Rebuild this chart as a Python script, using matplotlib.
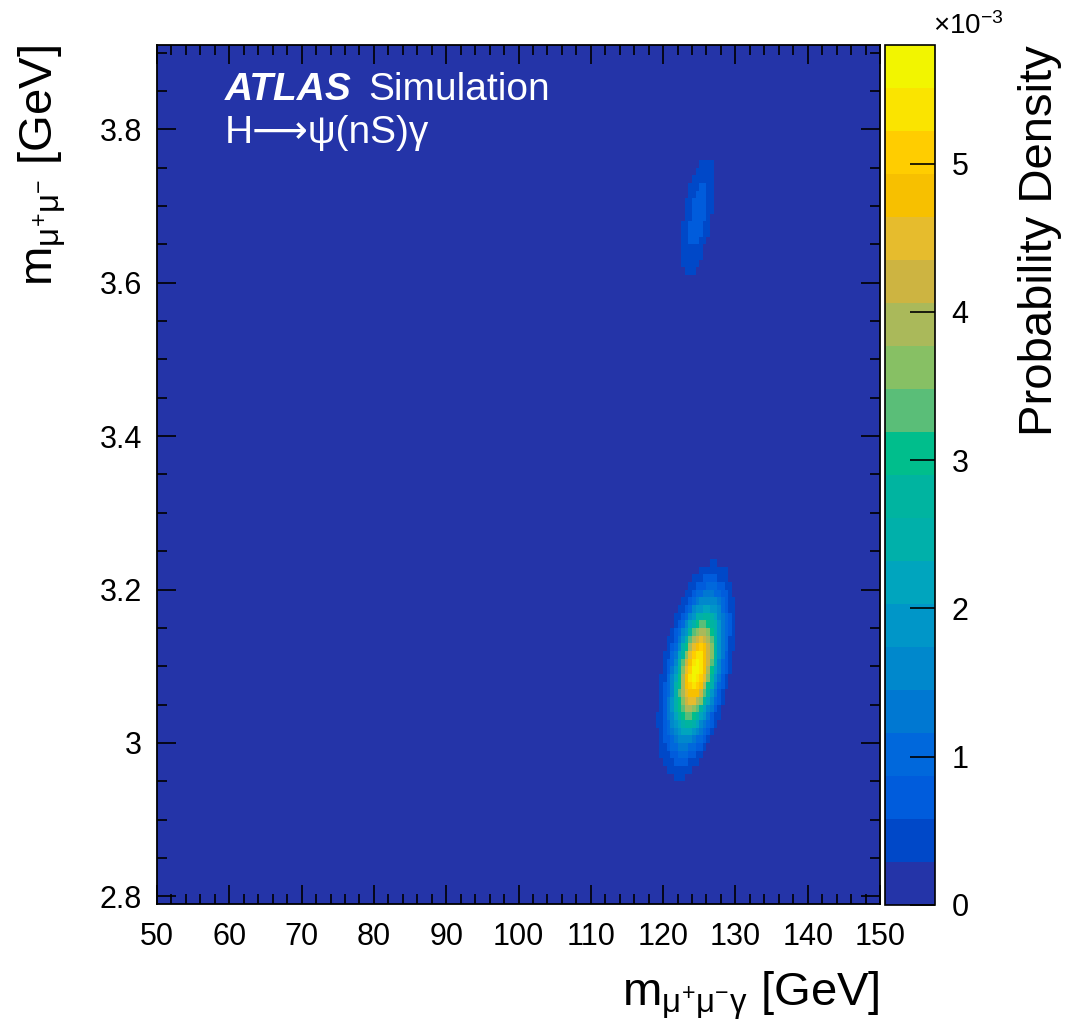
import numpy as np
import matplotlib
matplotlib.use("Agg")
import matplotlib.pyplot as plt
from matplotlib.colors import ListedColormap, BoundaryNorm
from matplotlib.ticker import MultipleLocator

plt.rcParams['font.family'] = ['Liberation Sans', 'DejaVu Sans']
plt.rcParams['mathtext.fontset'] = 'custom'
plt.rcParams['mathtext.rm'] = 'Liberation Sans'
plt.rcParams['mathtext.it'] = 'Liberation Sans:italic'
plt.rcParams['mathtext.bf'] = 'Liberation Sans:bold'

# binning of the 2D histogram [GeV]
x_lo, x_hi, x_bin = 50.0, 150.0, 0.5
y_lo, y_hi, y_bin = 2.79, 3.91, 0.01

# the two signal peaks (J/psi and psi(2S))
peak_name = ["J/psi", "psi(2S)"]
peak_mx = [124.6, 124.8]      # centre in m(mumugamma)
peak_my = [3.095, 3.688]      # centre in m(mumu)
peak_sx = [1.95, 1.4]         # width in m(mumugamma) at fixed m(mumu)
peak_sy = [0.058, 0.056]      # width in m(mumu)
peak_slope = [17.6, 16.0]     # tilt: GeV of m(mumugamma) per GeV of m(mumu)
peak_height = [5.65, 0.75]    # probability density, x10^-3

# 20 colour levels between 0 and 5.8 (x10^-3)
z_max = 5.8
palette = ["#2434A8", "#0048C8", "#005CDC", "#0068DC", "#0078D2",
           "#0088CC", "#0096C8", "#00A5BE", "#00B0AA", "#00B4A0",
           "#00BE8C", "#5ABE78", "#87C064", "#AAB95A", "#CDB441",
           "#E6BC2D", "#F7C000", "#FFCD00", "#FAE400", "#F2F500"]
cbar_ticks = [0, 1, 2, 3, 4, 5]
x_ticks = [50, 60, 70, 80, 90, 100, 110, 120, 130, 140, 150]
y_ticks = [2.8, 3.0, 3.2, 3.4, 3.6, 3.8]
y_ticklabels = ["2.8", "3", "3.2", "3.4", "3.6", "3.8"]

# fill the bins
xe = np.arange(x_lo, x_hi + x_bin / 2, x_bin)
ye = np.round(np.arange(y_lo, y_hi + y_bin / 2, y_bin), 4)
xc = 0.5 * (xe[1:] + xe[:-1])
yc = 0.5 * (ye[1:] + ye[:-1])
X, Y = np.meshgrid(xc, yc)
dens = np.zeros_like(X)
for mx, my, sx, sy, k, h in zip(peak_mx, peak_my, peak_sx, peak_sy, peak_slope, peak_height):
    dy = (Y - my) / sy
    dx = (X - mx - k * (Y - my)) / sx
    dens += h * np.exp(-0.5 * (dx ** 2 + dy ** 2))

W, H = 1066, 1025
fig = plt.figure(figsize=(W / 100, H / 100), dpi=100)
ax = fig.add_axes([157 / W, 1 - 904 / H, 723 / W, 859 / H])
cax = fig.add_axes([885 / W, 1 - 905 / H, 50 / W, 860 / H])

cmap = ListedColormap(palette)
cmap.set_over(palette[-1])
bounds = np.linspace(0, z_max, len(palette) + 1)
norm = BoundaryNorm(bounds, cmap.N)

mesh = ax.pcolormesh(xe, ye, dens, cmap=cmap, norm=norm, shading='flat')
ax.set_xlim(x_lo, x_hi)
ax.set_ylim(y_lo, y_hi)

ax.set_xticks(x_ticks)
ax.set_xticklabels([str(t) for t in x_ticks])
ax.set_yticks(y_ticks)
ax.set_yticklabels(y_ticklabels)
ax.xaxis.set_minor_locator(MultipleLocator(2))
ax.yaxis.set_minor_locator(MultipleLocator(0.05))
ax.tick_params(which='both', direction='in', top=True, right=True,
               labelsize=22, width=1.2, colors='black')
ax.tick_params(which='major', length=14)
ax.tick_params(which='minor', length=7)
ax.tick_params(axis='x', pad=13)
ax.tick_params(axis='y', pad=11)
for s in ax.spines.values():
    s.set_linewidth(1.3)

cb = fig.colorbar(mesh, cax=cax, ticks=cbar_ticks)
cb.ax.set_yticklabels([str(t) for t in cbar_ticks])
cb.ax.tick_params(direction='in', length=18, width=1.2, labelsize=22, pad=12)
cb.ax.minorticks_off()
cb.outline.set_linewidth(1.2)

# labels, ROOT style: aligned to the axis ends
fig.text(880 / W, 1 - 1005 / H, r'$\mathrm{m}_{\mathrm{\mu^{+}\mu^{-}\gamma}}$ [GeV]',
         ha='right', va='baseline', fontsize=34)
fig.text(42 / W, 1 - 45 / H, r'$\mathrm{m}_{\mathrm{\mu^{+}\mu^{-}}}$ [GeV]',
         ha='center', va='top', rotation=90, fontsize=34)
fig.text(1040 / W, 1 - 45 / H, 'Probability Density',
         ha='center', va='top', rotation=90, fontsize=34)
fig.text(933 / W, 1 - 40 / H, r'$\times10^{-3}$', ha='left', va='bottom', fontsize=20)

fig.text(225 / W, 1 - 100 / H, 'ATLAS', color='white', fontsize=28,
         fontweight='bold', fontstyle='italic', va='baseline')
fig.text(368 / W, 1 - 100 / H, 'Simulation', color='white', fontsize=28, va='baseline')
fig.text(225 / W, 1 - 143 / H, 'H\u27f6\u03c8(nS)\u03b3', color='white', fontsize=28,
         va='baseline', family=['Liberation Sans', 'DejaVu Sans'])

fig.savefig("out.png", dpi=100)
